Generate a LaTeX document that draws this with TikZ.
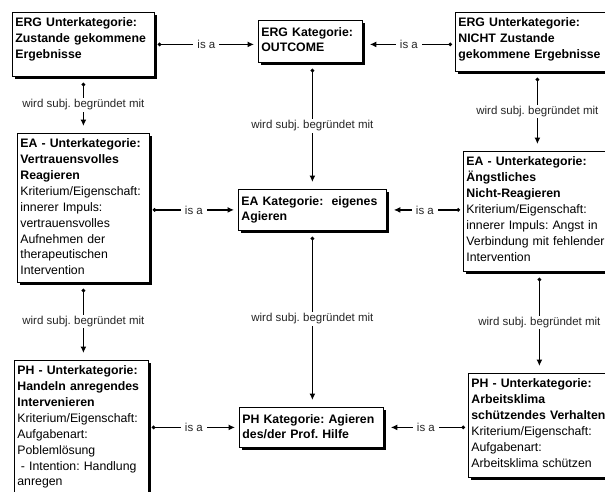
\documentclass[tikz,border=0pt]{standalone}
\usepackage{fontspec}
\setmainfont{Liberation Sans}
\usetikzlibrary{positioning,arrows.meta,shadows}

\newcommand{\subhead}[1]{{\bfseries\fontsize{12.3}{16.2}\selectfont #1\par}}
\frenchspacing

\begin{document}
\begin{tikzpicture}[
        x=1pt, y=-1pt,
        box/.style={rectangle, draw, line width=0.8pt, fill=white, anchor=north west, align=left,
            inner xsep=3pt, inner ysep=2pt, text height=12pt,
            drop shadow={shadow xshift=3pt, shadow yshift=-3pt, fill=black, opacity=1},
            font=\fontsize{12.3}{15.8}\selectfont},
        sub/.style={box},
        cat/.style={box, text height=14.5pt, font=\bfseries\fontsize{12.3}{14.5}\selectfont},
        rel/.style={line width=1.6pt, {Circle[length=3.5pt]}-{Latex[length=6.5pt,width=6pt]}},
        isa/.style={rel, shorten <=3pt, shorten >=4pt},
        wsb/.style={rel, shorten <=6pt, shorten >=7pt},
        lbl/.style={fill=white, inner xsep=4pt, inner ysep=1.5pt, font=\fontsize{11.5}{13}\selectfont, text=black!85},
    ]
    \useasboundingbox (0,0) rectangle (605,491);
    \clip (0,0) rectangle (605,491);

    % ----- ERG (outcome) -----
    \node[sub, text width=136pt, text depth=48pt] (ergzu) at (12,12) {\subhead{ERG Unterkategorie:\\Zustande gekommene\\Ergebnisse}};
    \node[cat, text width=98pt, text depth=23.5pt] (ergkat) at (258,20) {ERG Kategorie:\\OUTCOME};
    \node[sub, text width=158pt, text depth=43pt] (ergnicht) at (455,12) {\subhead{ERG Unterkategorie:\\NICHT Zustande\\gekommene Ergebnisse}};

    % ----- EA (eigenes Agieren) -----
    \node[sub, text width=126pt, text depth=133pt] (eaver) at (17,133) {\subhead{EA - Unterkategorie:\\Vertrauensvolles\\Reagieren}
        Kriterium/Eigenschaft:\\innerer Impuls:\\vertrauensvolles\\Aufnehmen der\\therapeutischen\\Intervention};
    \node[cat, text width=142pt, text depth=22.5pt] (eakat) at (238,189) {EA Kategorie:\ \ eigenes\\Agieren};
    \node[sub, text width=146pt, text depth=104pt] (eaang) at (463,151) {\subhead{EA - Unterkategorie:\\Ängstliches\\Nicht-Reagieren}
        Kriterium/Eigenschaft:\\innerer Impuls: Angst in\\Verbindung mit fehlender\\Intervention};

    % ----- PH (Prof. Hilfe) -----
    \node[sub, text width=128pt, text depth=130pt] (phhan) at (14,360) {\subhead{PH - Unterkategorie:\\Handeln anregendes\\Intervenieren}
        Kriterium/Eigenschaft:\\Aufgabenart:\\Poblemlösung\\\hspace*{3.5pt}- Intention: Handlung\\anregen};
    \node[cat, text width=138pt, text depth=21.5pt] (phkat) at (239,407) {PH Kategorie: Agieren\\des/der Prof. Hilfe};
    \node[sub, text width=140pt, text depth=88pt] (phklima) at (468,373) {\subhead{PH - Unterkategorie:\\Arbeitsklima\\schützendes Verhalten}
        Kriterium/Eigenschaft:\\Aufgabenart:\\Arbeitsklima schützen};

    % is a
    \draw[isa] (ergzu.east) -- node[lbl] {is a} (ergzu.east -| ergkat.west);
    \draw[isa, shorten >=7pt] (ergnicht.west |- ergzu.east) -- node[lbl] {is a} (ergkat.east |- ergzu.east);
    \draw[isa] (eaver.east |- eakat.west) -- node[lbl] {is a} (eakat.west);
    \draw[isa, shorten >=7pt] (eaang.west |- eakat.east) -- node[lbl] {is a} (eakat.east);
    \draw[isa] (phhan.east |- phkat.west) -- node[lbl] {is a} (phkat.west);
    \draw[isa, shorten >=7pt] (phklima.west |- phkat.east) -- node[lbl] {is a} (phkat.east);

    % wird subj. begruendet mit
    \draw[wsb] (ergzu.south) -- node[lbl] {wird subj. begründet mit} (ergzu.south |- eaver.north);
    \draw[wsb] (eaver.south) -- node[lbl] {wird subj. begründet mit} (eaver.south |- phhan.north);
    \draw[wsb] (eakat.north |- ergkat.south) -- node[lbl] {wird subj. begründet mit} (eakat.north);
    \draw[wsb] (eakat.south) -- node[lbl] {wird subj. begründet mit} (eakat.south |- phkat.north);
    \draw[wsb] (ergnicht.south) -- node[lbl] {wird subj. begründet mit} (ergnicht.south |- eaang.north);
    \draw[wsb] (eaang.south) -- node[lbl] {wird subj. begründet mit} (eaang.south |- phklima.north);
\end{tikzpicture}
\end{document}
